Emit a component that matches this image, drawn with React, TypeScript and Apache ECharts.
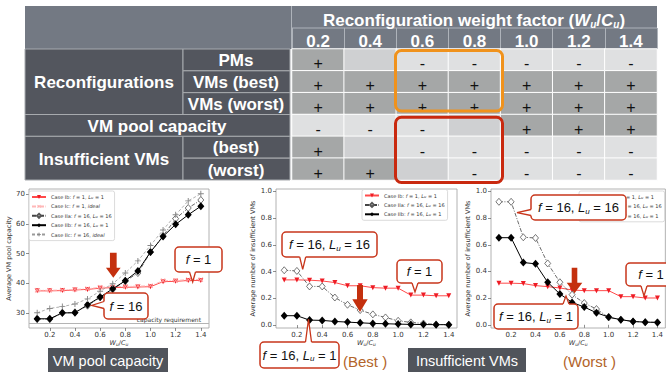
import React, { useEffect, useRef } from 'react';
import * as echarts from 'echarts';

// ---- Table: effect of the reconfiguration weight factor ----
const weightFactors = ['0.2', '0.4', '0.6', '0.8', '1.0', '1.2', '1.4'];
const effectRows = ['PMs', 'VMs (best)', 'VMs (worst)', 'VM pool capacity', 'Insufficient VMs (best)', 'Insufficient VMs (worst)'];
const pmsEffect = ['+', '', '-', '-', '-', '-', '-'];
const vmsBestEffect = ['+', '+', '+', '+', '+', '+', '+'];
const vmsWorstEffect = ['+', '+', '+', '+', '+', '+', '+'];
const poolEffect = ['-', '-', '-', '', '+', '+', '+'];
const insufficientBestEffect = ['+', '', '-', '-', '-', '-', '-'];
const insufficientWorstEffect = ['+', '+', '', '-', '-', '-', '-'];

// ---- Line charts: x = Wu/Cu ----
const wuOverCu = [0.1, 0.2, 0.3, 0.4, 0.5, 0.6, 0.7, 0.8, 0.9, 1.0, 1.1, 1.2, 1.3, 1.4];

// Average VM pool capacity
const poolCaseIb = [37.5, 37.5, 37.6, 37.8, 38.0, 38.4, 38.6, 38.7, 38.8, 38.9, 40.6, 40.7, 41.0, 41.0];
const poolCaseIc = [37.7, 37.7, 37.8, 38.0, 38.2, 38.7, 38.9, 39.0, 39.1, 39.2, 40.9, 41.0, 41.3, 41.3];
const poolCaseIIa = [28.0, 28.0, 30.0, 30.3, 32.5, 35.3, 38.0, 40.8, 43.5, 50.5, 56.0, 61.8, 65.4, 68.1];
const poolCaseIIb = [28.1, 28.1, 30.1, 30.1, 32.8, 35.4, 38.2, 40.9, 44.2, 50.6, 55.8, 59.9, 63.1, 66.0];
const poolCaseIIc = [30.1, 31.6, 32.2, 33.1, 34.8, 37.4, 39.9, 43.5, 47.6, 52.8, 58.0, 63.1, 67.8, 70.2];
const capacityRequirement = 26.5;

// Average number of insufficient VMs (best case)
const bestCaseIb = [0.338, 0.338, 0.336, 0.33, 0.318, 0.294, 0.294, 0.28, 0.276, 0.276, 0.224, 0.224, 0.219, 0.219];
const bestCaseIIa = [0.41, 0.405, 0.289, 0.289, 0.206, 0.152, 0.112, 0.08, 0.057, 0.032, 0.02, 0.012, 0.005, 0.002];
const bestCaseIIb = [0.07, 0.07, 0.037, 0.035, 0.027, 0.022, 0.017, 0.012, 0.01, 0.007, 0.005, 0.004, 0.003, 0.003];

// Average number of insufficient VMs (worst case)
const worstCaseIb = [0.312, 0.312, 0.309, 0.294, 0.286, 0.276, 0.261, 0.256, 0.256, 0.256, 0.211, 0.211, 0.201, 0.201];
const worstCaseIIa = [0.922, 0.922, 0.656, 0.651, 0.46, 0.319, 0.226, 0.163, 0.118, 0.055, 0.038, 0.025, 0.02, 0.018];
const worstCaseIIb = [0.653, 0.653, 0.467, 0.457, 0.319, 0.231, 0.168, 0.133, 0.09, 0.058, 0.038, 0.025, 0.02, 0.018];

const xTicks = [0.2, 0.4, 0.6, 0.8, 1.0, 1.2, 1.4];
const poolTicks = [30, 40, 50, 60, 70];
const ratioTicks = [0, 0.2, 0.4, 0.6, 0.8, 1.0];

const SANS = 'Liberation Sans, Arial, Helvetica, sans-serif';
const PLOT_FONT = 'DejaVu Sans, sans-serif';
const RED = '#c8361b';
const ARROW_RED = '#c4300e';

const symbolCode: Record<string, number> = { '+': 1, '-': -1, '': 0 };
const codeSymbol: Record<number, string> = { 1: '+', [-1]: '-', 0: '' };

const PLUS = 'path://M4.2,0H5.8V4.2H10V5.8H5.8V10H4.2V5.8H0V4.2H4.2Z';

const caseStyles: Record<string, any> = {
  'Case Ib': {
    symbol: 'triangle', symbolRotate: 180, symbolSize: 5,
    itemStyle: { color: '#ee1c25' }, lineStyle: { color: '#ff4a4a', width: 1 },
  },
  'Case Ic': {
    symbol: PLUS, symbolRotate: 45, symbolSize: 6,
    itemStyle: { color: '#ff9a9a' }, lineStyle: { color: '#ffb8b8', width: 1, type: [4, 1.5, 1, 1.5] },
  },
  'Case IIa': {
    symbol: 'diamond', symbolSize: [6, 7],
    itemStyle: { color: '#ffffff', borderColor: '#555', borderWidth: 0.8 },
    lineStyle: { color: '#444', width: 0.8, type: [4, 1.5, 1, 1.5] },
  },
  'Case IIb': {
    symbol: 'diamond', symbolSize: [7, 8],
    itemStyle: { color: '#000' }, lineStyle: { color: '#000', width: 1 },
  },
  'Case IIc': {
    symbol: PLUS, symbolSize: 6,
    itemStyle: { color: '#888' }, lineStyle: { color: '#9a9a9a', width: 0.8, type: [3, 2] },
  },
};

const legendLabels: Record<string, string> = {
  'Case Ib': 'Case Ib: {i|f} = 1, {i|L}{s|u} = 1',
  'Case Ic': 'Case Ic: {i|f} = 1, {i|ideal}',
  'Case IIa': 'Case IIa: {i|f} = 16, {i|L}{s|u} = 16',
  'Case IIb': 'Case IIb: {i|f} = 16, {i|L}{s|u} = 1',
  'Case IIc': 'Case IIc: {i|f} = 16, {i|ideal}',
};

function lineSeries(name: string, values: number[], axis: number, extra: any = {}) {
  return {
    type: 'line', name, xAxisIndex: axis, yAxisIndex: axis,
    data: wuOverCu.map((x, i) => [x, values[i]]),
    showSymbol: true, silent: true,
    ...caseStyles[name],
    ...extra,
  };
}

function legend(left: number, top: number, names: string[]) {
  return {
    left, top, orient: 'vertical', data: names,
    formatter: (n: string) => legendLabels[n],
    itemWidth: 14, itemHeight: 5, itemGap: 1.4,
    backgroundColor: 'rgba(255,255,255,0.9)', borderColor: '#d2d2d2', borderWidth: 0.8, borderRadius: 2,
    padding: [2, 3, 2, 2], selectedMode: false,
    textStyle: {
      fontSize: 5, color: '#333', fontFamily: PLOT_FONT, lineHeight: 8,
      rich: {
        i: { fontStyle: 'italic', fontSize: 5, lineHeight: 8, fontFamily: PLOT_FONT, color: '#333' },
        s: { fontStyle: 'italic', fontSize: 3.6, lineHeight: 8, padding: [2, 0, 0, 0], fontFamily: PLOT_FONT, color: '#333' },
      },
    },
  };
}

const axisNameRich = {
  i: { fontStyle: 'italic', fontSize: 6.5, fontFamily: PLOT_FONT, color: '#333' },
  s: { fontStyle: 'italic', fontSize: 4.5, padding: [3, 0, 0, 0], fontFamily: PLOT_FONT, color: '#333' },
};

function xValueAxis(grid: number) {
  return {
    gridIndex: grid, type: 'value', min: 0.035, max: 1.465,
    axisLine: { show: false }, splitLine: { show: false },
    axisTick: { show: true, length: 3, customValues: xTicks, lineStyle: { color: '#444', width: 0.6 } },
    axisLabel: { customValues: xTicks, fontSize: 7, color: '#333', fontFamily: PLOT_FONT, margin: 3, formatter: (v: number) => v.toFixed(1) },
    name: '{i|W}{s|u}/{i|C}{s|u}', nameLocation: 'middle', nameGap: 11,
    nameTextStyle: { fontSize: 6.5, color: '#333', fontFamily: PLOT_FONT, rich: axisNameRich },
  };
}

function yValueAxis(grid: number, min: number, max: number, ticks: number[], name: string, gap: number, digits: number) {
  return {
    gridIndex: grid, type: 'value', min, max,
    axisLine: { show: false }, splitLine: { show: false },
    axisTick: { show: true, length: 3, customValues: ticks, lineStyle: { color: '#444', width: 0.6 } },
    axisLabel: { customValues: ticks, fontSize: 7, color: '#333', fontFamily: PLOT_FONT, margin: 4, formatter: (v: number) => v.toFixed(digits) },
    name, nameLocation: 'middle', nameGap: gap,
    nameTextStyle: { fontSize: 6.5, color: '#333', fontFamily: PLOT_FONT },
  };
}

const calloutRich = {
  i: { fontStyle: 'italic', fontSize: 13, fontFamily: SANS, fill: '#111' },
  s: { fontStyle: 'italic', fontSize: 8, fontFamily: SANS, fill: '#111', padding: [7, 0, 0, 0] },
};

function callout(x: number, y: number, w: number, h: number, text: string, side: 'top' | 'bottom' | 'left', c: number, hw: number, tip: [number, number]) {
  let b0: number[], b1: number[], i0: number[], i1: number[];
  if (side === 'bottom') {
    b0 = [c - hw, y + h]; b1 = [c + hw, y + h]; i0 = [c - hw, y + h - 2]; i1 = [c + hw, y + h - 2];
  } else if (side === 'top') {
    b0 = [c - hw, y]; b1 = [c + hw, y]; i0 = [c - hw, y + 2]; i1 = [c + hw, y + 2];
  } else {
    b0 = [x, c - hw]; b1 = [x, c + hw]; i0 = [x + 2, c - hw]; i1 = [x + 2, c + hw];
  }
  return [
    { type: 'rect', z: 100, shape: { x, y, width: w, height: h, r: 4 }, style: { fill: '#fff', stroke: RED, lineWidth: 1.5 } },
    { type: 'polygon', z: 101, shape: { points: [i0, b0, tip, b1, i1] }, style: { fill: '#fff' } },
    { type: 'polyline', z: 102, shape: { points: [b0, tip, b1] }, style: { stroke: RED, lineWidth: 1.3, fill: null } },
    {
      type: 'text', z: 103, x: x + w / 2, y: y + h / 2,
      style: { text, fontSize: 13, fontFamily: SANS, fill: '#111', align: 'center', verticalAlign: 'middle', textAlign: 'center', textVerticalAlign: 'middle', rich: calloutRich },
    },
  ];
}

function downArrow(cx: number, top: number, tip: number, shaftW: number, headW: number, headH: number) {
  const hy = tip - headH;
  return {
    type: 'polygon', z: 100,
    shape: {
      points: [
        [cx - shaftW / 2, top], [cx + shaftW / 2, top], [cx + shaftW / 2, hy], [cx + headW / 2, hy],
        [cx, tip], [cx - headW / 2, hy], [cx - shaftW / 2, hy],
      ],
    },
    style: { fill: ARROW_RED },
  };
}

function labelCell(x: number, y: number, w: number, h: number) {
  return { type: 'rect', shape: { x, y, width: w, height: h }, style: { fill: '#53565e', stroke: '#a7aaae', lineWidth: 1 } };
}

function cellText(text: string, x: number, y: number) {
  return {
    type: 'text', x, y, z: 5,
    style: { text, fontSize: 17, fontWeight: 'bold', fontFamily: SANS, fill: '#fff', align: 'center', verticalAlign: 'middle', textAlign: 'center', textVerticalAlign: 'middle' },
  };
}

function buildOption() {
  const effects = [pmsEffect, vmsBestEffect, vmsWorstEffect, poolEffect, insufficientBestEffect, insufficientWorstEffect];
  const cells: number[][] = [];
  effects.forEach((row, r) => row.forEach((s, c) => cells.push([c, r, symbolCode[s]])));

  const rowTop = 49;
  const rowH = 131 / effectRows.length;
  const ry = (k: number) => rowTop + k * rowH;

  const graphic: any[] = [
    // header band
    { type: 'rect', shape: { x: 25, y: 6, width: 632, height: 43 }, style: { fill: '#737983' } },
    { type: 'line', shape: { x1: 292, y1: 28, x2: 657, y2: 28 }, style: { stroke: '#aeb3ba', lineWidth: 1 } },
    { type: 'line', shape: { x1: 291.5, y1: 6, x2: 291.5, y2: 49 }, style: { stroke: '#aeb3ba', lineWidth: 1 } },
    {
      type: 'text', x: 474, y: 20, z: 5,
      style: {
        text: 'Reconfiguration weight factor ({i|W}{s|u}/{i|C}{s|u})',
        fontSize: 17, fontWeight: 'bold', fontFamily: SANS, fill: '#fff', align: 'center', verticalAlign: 'middle', textAlign: 'center', textVerticalAlign: 'middle',
        rich: {
          i: { fontSize: 17, fontWeight: 'bold', fontStyle: 'italic', fontFamily: SANS, fill: '#fff' },
          s: { fontSize: 10, fontWeight: 'bold', fontStyle: 'italic', fontFamily: SANS, fill: '#fff', padding: [8, 0, 0, 0] },
        },
      },
    },
    // row label cells
    labelCell(25, ry(0), 158, ry(3) - ry(0)),
    labelCell(183, ry(0), 107, rowH),
    labelCell(183, ry(1), 107, rowH),
    labelCell(183, ry(2), 107, rowH),
    labelCell(25, ry(3), 265, rowH),
    labelCell(25, ry(4), 158, rowH * 2),
    labelCell(183, ry(4), 107, rowH),
    labelCell(183, ry(5), 107, rowH),
    cellText('Reconfigurations', 104, (ry(0) + ry(3)) / 2 + 1),
    cellText('PMs', 236, ry(0) + rowH / 2 + 0.5),
    cellText('VMs (best)', 236, ry(1) + rowH / 2 + 0.5),
    cellText('VMs (worst)', 236, ry(2) + rowH / 2 + 0.5),
    cellText('VM pool capacity', 157, ry(3) + rowH / 2 + 1),
    cellText('Insufficient VMs', 104, ry(4) + rowH + 1),
    cellText('(best)', 236, ry(4) + rowH / 2 + 0.5),
    cellText('(worst)', 236, ry(5) + rowH / 2 + 1.5),
    // highlighted column groups
    { type: 'rect', z: 20, shape: { x: 395.5, y: 50.5, width: 107, height: 60.5, r: 6 }, style: { fill: null, stroke: '#f0921c', lineWidth: 3 } },
    { type: 'rect', z: 20, shape: { x: 395.5, y: 117.2, width: 107, height: 65.3, r: 6 }, style: { fill: null, stroke: '#c9290f', lineWidth: 3 } },

    // annotations: VM pool capacity
    downArrow(113.3, 252.7, 277.7, 6.7, 14.7, 10),
    ...callout(175, 247, 47, 25, '{i|f} = 1', 'bottom', 192.5, 3, [192.7, 282]),
    ...callout(104, 293, 44, 26, '{i|f} = 16', 'left', 305, 3.5, [91.7, 305.5]),

    // annotations: insufficient VMs (best)
    downArrow(360, 285, 312, 6, 15.4, 12.7),
    ...callout(282, 232, 95, 25, '{i|f} = 16, {i|L}{s|u} = 16', 'bottom', 302.7, 3, [302.7, 269.3]),
    ...callout(397, 260, 45, 23, '{i|f} = 1', 'bottom', 415, 3, [415, 292]),
    ...callout(260, 342, 79, 26, '{i|f} = 16, {i|L}{s|u} = 1', 'top', 308.5, 3, [308.5, 319.3]),

    // annotations: insufficient VMs (worst)
    downArrow(574.5, 267.7, 293.3, 5.6, 15.6, 10.6),
    ...callout(531, 195, 95, 25, '{i|f} = 16, {i|L}{s|u} = 16', 'left', 212.5, 3, [517, 212.7]),
    ...callout(626, 263, 50, 23, '{i|f} = 1', 'bottom', 644, 3, [644, 296]),
    ...callout(494, 304, 84, 25, '{i|f} = 16, {i|L}{s|u} = 1', 'top', 566, 3, [566, 296]),

    // captions
    { type: 'rect', shape: { x: 48, y: 348, width: 120, height: 26 }, style: { fill: '#50545b' } },
    { type: 'text', x: 108, y: 361, style: { text: 'VM pool capacity', fontSize: 14.5, fontFamily: SANS, fill: '#fff', align: 'center', verticalAlign: 'middle', textAlign: 'center', textVerticalAlign: 'middle' } },
    { type: 'rect', shape: { x: 408, y: 348, width: 118, height: 26 }, style: { fill: '#50545b' } },
    { type: 'text', x: 467, y: 361, style: { text: 'Insufficient VMs', fontSize: 14.5, fontFamily: SANS, fill: '#fff', align: 'center', verticalAlign: 'middle', textAlign: 'center', textVerticalAlign: 'middle' } },
    { type: 'text', x: 343, y: 361.5, style: { text: '(Best )', fontSize: 15, fontFamily: SANS, fill: '#b2642a', align: 'left', verticalAlign: 'middle', textAlign: 'left', textVerticalAlign: 'middle' } },
    { type: 'text', x: 563, y: 361, style: { text: '(Worst )', fontSize: 15, fontFamily: SANS, fill: '#b2642a', align: 'left', verticalAlign: 'middle', textAlign: 'left', textVerticalAlign: 'middle' } },
  ];

  const plotGrid = { show: true, borderColor: '#a0a0a0', borderWidth: 0.8, backgroundColor: 'transparent' };

  return {
    animation: false,
    grid: [
      { left: 292, top: 49, width: 365, height: 131 },
      { left: 29, top: 189, width: 180, height: 139, ...plotGrid },
      { left: 276, top: 189, width: 181, height: 139, ...plotGrid },
      { left: 491, top: 189, width: 181, height: 139, ...plotGrid },
    ],
    visualMap: {
      type: 'piecewise', show: false, seriesIndex: 0, dimension: 2,
      pieces: [
        { value: 1, color: '#a5a7a7' },
        { value: -1, color: '#dfe0e1' },
        { value: 0, color: '#cfd0d2' },
      ],
    },
    xAxis: [
      {
        gridIndex: 0, type: 'category', data: weightFactors, position: 'top',
        axisLine: { show: false },
        axisTick: { show: true, length: 21, lineStyle: { color: '#aeb3ba', width: 1 } },
        axisLabel: { color: '#fff', fontSize: 17, fontWeight: 'bold', fontFamily: SANS, margin: 7.5, verticalAlign: 'middle' },
      },
      xValueAxis(1),
      xValueAxis(2),
      xValueAxis(3),
    ],
    yAxis: [
      { gridIndex: 0, type: 'category', data: effectRows, inverse: true, show: false },
      yValueAxis(1, 25.0, 71.8, poolTicks, 'Average VM pool capacity', 13, 0),
      yValueAxis(2, -0.022, 1.018, ratioTicks, 'Average number of insufficient VMs', 16, 1),
      yValueAxis(3, -0.024, 1.018, ratioTicks, 'Average number of insufficient VMs', 16, 1),
    ],
    legend: [
      legend(29, 191, ['Case Ib', 'Case Ic', 'Case IIa', 'Case IIb', 'Case IIc']),
      legend(362, 189.5, ['Case Ib', 'Case IIa', 'Case IIb']),
      legend(579, 191, ['Case Ib', 'Case IIa', 'Case IIb']),
    ],
    graphic,
    series: [
      {
        type: 'heatmap', xAxisIndex: 0, yAxisIndex: 0, data: cells, silent: true,
        itemStyle: { borderColor: '#ffffff', borderWidth: 1 },
        label: {
          show: true, formatter: (p: any) => codeSymbol[p.value[2]],
          fontSize: 16, color: '#111', fontFamily: SANS, offset: [0, 4],
        },
      },
      lineSeries('Case Ib', poolCaseIb, 1, {
        markLine: {
          silent: true, symbol: 'none', animation: false,
          data: [{ yAxis: capacityRequirement }],
          lineStyle: { color: '#b4b4b4', width: 1, type: 'solid' },
          label: { show: true, position: 'insideEndTop', formatter: 'capacity requirement', fontSize: 6, color: '#333', fontFamily: PLOT_FONT, distance: [8, 1] },
        },
      }),
      lineSeries('Case Ic', poolCaseIc, 1),
      lineSeries('Case IIa', poolCaseIIa, 1),
      lineSeries('Case IIb', poolCaseIIb, 1),
      lineSeries('Case IIc', poolCaseIIc, 1),
      lineSeries('Case Ib', bestCaseIb, 2),
      lineSeries('Case IIa', bestCaseIIa, 2),
      lineSeries('Case IIb', bestCaseIIb, 2),
      lineSeries('Case Ib', worstCaseIb, 3),
      lineSeries('Case IIa', worstCaseIIa, 3),
      lineSeries('Case IIb', worstCaseIIb, 3),
    ],
  };
}

export default function App() {
  const ref = useRef<HTMLDivElement>(null);
  useEffect(() => {
    if (!ref.current) return;
    const chart = echarts.init(ref.current, undefined, { renderer: 'svg' });
    chart.setOption(buildOption() as any);
    return () => chart.dispose();
  }, []);
  return <div ref={ref} style={{ position: 'absolute', left: 0, top: 0, width: 666, height: 372, background: '#fff' }} />;
}
